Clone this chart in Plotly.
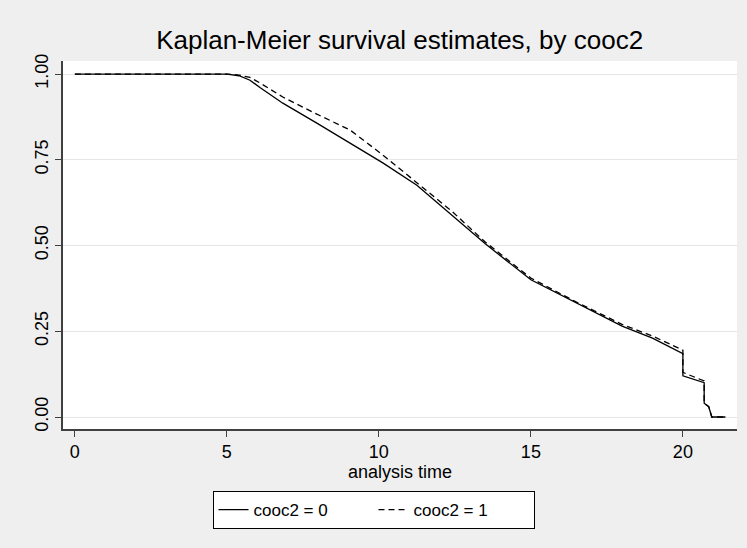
import plotly.graph_objects as go

# Survival curves (time, survival)
t0 = [0, 5.0, 5.4, 5.76, 6.1, 6.84, 7.96, 9.05, 10.13, 11.25, 12.4, 13.5, 15.0, 16.5, 18.0, 19.0, 20.0, 20.0, 20.7, 20.7, 20.85, 20.95, 21.4]
s0 = [1.0, 1.0, 0.995, 0.982, 0.96, 0.915, 0.857, 0.799, 0.741, 0.676, 0.59, 0.505, 0.40, 0.332, 0.265, 0.23, 0.185, 0.12, 0.10, 0.04, 0.03, 0.0, 0.0]
t1 = [0, 5.0, 5.4, 5.76, 6.09, 6.84, 7.96, 9.05, 10.13, 11.45, 12.4, 13.5, 15.0, 16.5, 18.0, 19.0, 20.0, 20.0, 20.7, 20.7, 20.85, 20.95, 21.4]
s1 = [1.0, 1.0, 0.997, 0.99, 0.974, 0.933, 0.883, 0.837, 0.764, 0.67, 0.60, 0.51, 0.405, 0.335, 0.27, 0.236, 0.195, 0.13, 0.105, 0.04, 0.03, 0.0, 0.0]
names = ["cooc2 = 0", "cooc2 = 1"]
xticks = [0, 5, 10, 15, 20]
yticks = [0, 0.25, 0.5, 0.75, 1.0]
ylabels = ["0.00", "0.25", "0.50", "0.75", "1.00"]

FONT = "Liberation Sans"
fig = go.Figure()
fig.add_trace(go.Scatter(x=t0, y=s0, mode="lines", name=names[0],
                         line=dict(color="black", width=1.3)))
fig.add_trace(go.Scatter(x=t1, y=s1, mode="lines", name=names[1],
                         line=dict(color="black", width=1.3, dash="6px,4px")))

fig.update_layout(
    width=747, height=548,
    paper_bgcolor="#efefef", plot_bgcolor="white",
    margin=dict(l=63, r=10, t=61, b=119),
    font=dict(family=FONT, color="black", size=18),
    title=dict(text="Kaplan-Meier survival estimates, by cooc2", x=0.535, xanchor="center",
               y=1 - 40 / 548, yanchor="middle", font=dict(size=26, family=FONT)),
    xaxis=dict(range=[-0.39, 21.78], tickvals=xticks, ticks="outside", ticklen=6,
               tickcolor="#404040", showline=True, linecolor="#404040", linewidth=1.5,
               showgrid=False, zeroline=False,
               title=dict(text="analysis time", standoff=2, font=dict(size=18)),
               tickfont=dict(size=18)),
    yaxis=dict(range=[-0.035, 1.038], tickvals=yticks, ticktext=ylabels, ticks="outside",
               ticklen=6, tickcolor="#404040", showline=True, linecolor="#404040",
               linewidth=1.5, showgrid=True, gridcolor="#e6e6e6", gridwidth=1,
               zeroline=False, tickangle=-90, tickfont=dict(size=18)),
    legend=dict(orientation="h", x=0.5, xanchor="center", xref="container",
                y=1 - 491 / 548, yref="container", yanchor="top",
                bgcolor="white", bordercolor="black", borderwidth=1,
                font=dict(size=17), entrywidth=115, entrywidthmode="pixels"),
    showlegend=True,
)
fig.write_html("out.html")
